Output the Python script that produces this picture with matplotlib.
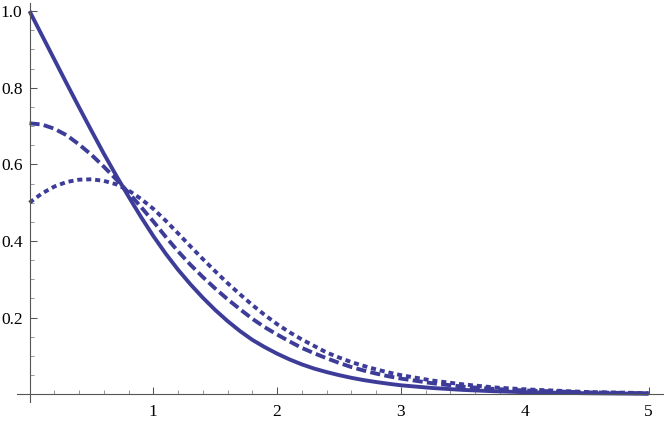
import numpy as np
import matplotlib.pyplot as plt
from matplotlib.ticker import FixedLocator

plt.rcParams['font.family'] = ['Liberation Serif', 'DejaVu Serif']

# values
x = [0, 0.1, 0.2, 0.3, 0.4, 0.5, 0.6, 0.7, 0.8, 0.9,
     1.0, 1.1, 1.2, 1.3, 1.4, 1.5, 1.6, 1.7, 1.8, 1.9,
     2.0, 2.1, 2.2, 2.3, 2.4, 2.5, 2.6, 2.7, 2.8, 2.9,
     3.0, 3.25, 3.5, 3.75, 4.0, 4.5, 5.0]
solid = [1.000, 0.937, 0.874, 0.811, 0.749, 0.688, 0.628, 0.571, 0.516, 0.463,
         0.413, 0.367, 0.325, 0.287, 0.252, 0.220, 0.191, 0.165, 0.142, 0.123,
         0.106, 0.091, 0.078, 0.067, 0.058, 0.050, 0.043, 0.037, 0.032, 0.0275,
         0.0235, 0.0165, 0.0115, 0.008, 0.0055, 0.0028, 0.0014]
dashed = [0.707, 0.704, 0.693, 0.676, 0.652, 0.625, 0.594, 0.561, 0.526, 0.489,
          0.451, 0.411, 0.373, 0.338, 0.306, 0.276, 0.248, 0.222, 0.197, 0.175,
          0.156, 0.138, 0.121, 0.107, 0.094, 0.082, 0.071, 0.062, 0.054, 0.047,
          0.041, 0.029, 0.020, 0.014, 0.010, 0.005, 0.0025]
dotted = [0.500, 0.524, 0.542, 0.554, 0.560, 0.561, 0.557, 0.548, 0.532, 0.510,
          0.484, 0.453, 0.420, 0.386, 0.353, 0.321, 0.290, 0.261, 0.233, 0.207,
          0.183, 0.162, 0.143, 0.126, 0.109, 0.096, 0.084, 0.074, 0.065, 0.057,
          0.050, 0.036, 0.026, 0.018, 0.013, 0.006, 0.003]

xticks = [1, 2, 3, 4, 5]
yticks = [0.2, 0.4, 0.6, 0.8, 1.0]

col = '#3d3d99'
axcol = '#555555'

fig = plt.figure(figsize=(6.64, 4.25), dpi=100)
ax = fig.add_axes([17/664, 23/425, 647/664, 399/425])
ax.set_xlim(-0.101, 5.125)
ax.set_ylim(-0.0201, 1.021)

lw = 2.8
ax.plot(x, solid, color=col, lw=lw, solid_capstyle='butt', solid_joinstyle='round')
ax.plot(x, dashed, color=col, lw=lw, dashes=(2.6, 1.1))
ax.plot(x, dotted, color=col, lw=lw, dashes=(1.3, 1.0))

for s in ['top', 'right']:
    ax.spines[s].set_visible(False)
ax.spines['left'].set_position(('data', 0))
ax.spines['bottom'].set_position(('data', 0))
for s in ['left', 'bottom']:
    ax.spines[s].set_color(axcol)
    ax.spines[s].set_linewidth(0.8)

ax.xaxis.set_major_locator(FixedLocator(xticks))
ax.yaxis.set_major_locator(FixedLocator(yticks))
xminor = [v / 5 for v in range(1, 25) if v % 5 != 0]
yminor = [v / 20 for v in range(1, 20) if v % 4 != 0]
ax.xaxis.set_minor_locator(FixedLocator(xminor))
ax.yaxis.set_minor_locator(FixedLocator(yminor))
ax.set_xticklabels([str(v) for v in xticks])
ax.set_yticklabels(['%.1f' % v for v in yticks])

ax.tick_params(which='both', direction='in', color=axcol, width=0.75,
               labelsize=12.5)
ax.tick_params(which='major', length=5)
ax.tick_params(which='minor', length=3, color='#999999')
ax.tick_params(axis='x', which='major', pad=7)
ax.tick_params(axis='y', which='major', pad=5)

fig.savefig('out.png', dpi=100)
